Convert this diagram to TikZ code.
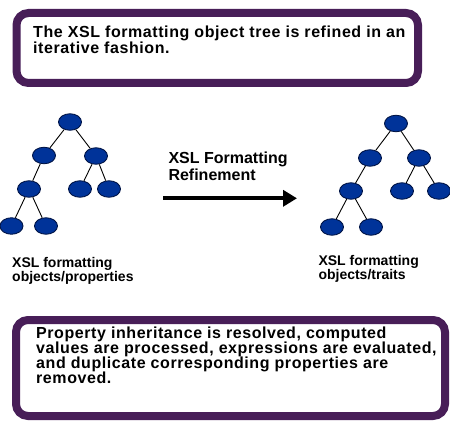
\documentclass[tikz,border=0pt]{standalone}
\usepackage{fontspec}
\setmainfont{Liberation Sans}
\newfontfamily\boxfont[LetterSpace=3.6]{Liberation Sans}
\usetikzlibrary{shapes.geometric,arrows.meta}
\setlength{\lineskiplimit}{-20pt}
\definecolor{boxpurple}{RGB}{72,30,88}
\definecolor{nodeblue}{RGB}{0,51,153}
\definecolor{nodeedge}{RGB}{0,20,70}
\tikzset{
  framebox/.style={draw=boxpurple,line width=8pt,fill=white,rounded corners=12pt},
  treenode/.style={ellipse,fill=nodeblue,draw=nodeedge,line width=0.9pt,minimum width=23pt,minimum height=16.5pt,inner sep=0pt},
  treeedge/.style={draw=black,line width=0.9pt},
  boxtext/.style={anchor=base west,inner sep=0pt,align=left},
  topfont/.style={font=\boxfont\bfseries\fontsize{16}{15.6}\selectfont},
  botfont/.style={font=\boxfont\bfseries\fontsize{16}{14.7}\selectfont},
  arrowtext/.style={anchor=base west,inner sep=0pt,align=left,font=\bfseries\fontsize{16}{16.7}\selectfont},
  labeltext/.style={anchor=base west,inner sep=0pt,align=left,font=\bfseries\fontsize{14}{13.4}\selectfont},
  bigarrow/.style={draw=black,line width=4pt,-{Triangle[length=14pt,width=16pt]}}
}
\begin{document}
\begin{tikzpicture}[x=1pt,y=-1pt]
\useasboundingbox[fill=white] (0,0) rectangle (450,422);
% top box
\draw[framebox] (16.5,13) rectangle (418,83);
\node[boxtext,topfont] (toptext) at (33,53.3) {The XSL formatting object tree is refined in an\\iterative fashion.};
% bottom box
\draw[framebox] (16,320) rectangle (445,416);
\node[boxtext,botfont] (bottext) at (36,383) {Property inheritance is resolved, computed\\values are processed, expressions are evaluated,\\and duplicate corresponding properties are\\removed.};
% left tree
\node[treenode] (lr) at (70,122) {};
\node[treenode] (la) at (44,155.5) {};
\node[treenode] (lb) at (96,156) {};
\node[treenode] (lc) at (29,189) {};
\node[treenode] (ld) at (80,189) {};
\node[treenode] (le) at (109,189) {};
\node[treenode] (lf) at (11.5,226) {};
\node[treenode] (lg) at (46,226) {};
\draw[treeedge] (lr) -- (la);
\draw[treeedge] (lr) -- (lb);
\draw[treeedge] (la) -- (lc);
\draw[treeedge] (lb) -- (ld);
\draw[treeedge] (lb) -- (le);
\draw[treeedge] (lc) -- (lf);
\draw[treeedge] (lc) -- (lg);
% right tree
\node[treenode] (rr) at (396,123.5) {};
\node[treenode] (ra) at (370,158) {};
\node[treenode] (rb) at (419,158) {};
\node[treenode] (rc) at (351,191) {};
\node[treenode] (rd) at (402,191) {};
\node[treenode] (re) at (439,191) {};
\node[treenode] (rf) at (332,227) {};
\node[treenode] (rg) at (371,227) {};
\draw[treeedge] (rr) -- (ra);
\draw[treeedge] (rr) -- (rb);
\draw[treeedge] (ra) -- (rc);
\draw[treeedge] (rb) -- (rd);
\draw[treeedge] (rb) -- (re);
\draw[treeedge] (rc) -- (rf);
\draw[treeedge] (rc) -- (rg);
% labels
\node[labeltext] (llabel) at (12,281) {XSL formatting\\objects/properties};
\node[labeltext] (rlabel) at (318.3,279.3) {XSL formatting\\objects/traits};
% arrow
\node[arrowtext] (arrlabel) at (168.3,180.7) {XSL Formatting\\Refinement};
\coordinate (astart) at (163,198.3);
\coordinate (aend) at (297,198.3);
\draw[bigarrow] (astart) -- (aend);
\end{tikzpicture}
\end{document}
